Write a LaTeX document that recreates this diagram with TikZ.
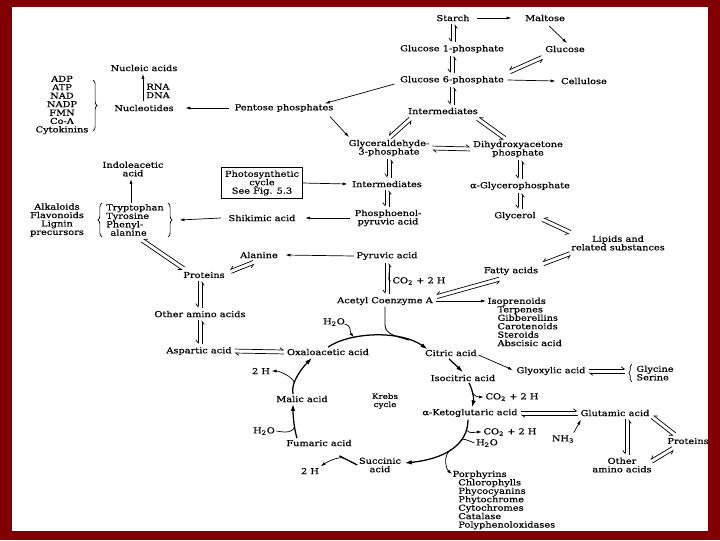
\documentclass[tikz,border=0pt]{standalone}
\usepackage{fontspec}
\newfontfamily\diagfont[FakeStretch=1.2,FakeBold=0.5]{DejaVu Serif}
\usetikzlibrary{arrows.meta}
\usetikzlibrary{calc}
\usetikzlibrary{decorations.pathreplacing}
\definecolor{framered}{RGB}{128,0,4}
\newcommand{\dfont}{\fontsize{5.8pt}{6pt}\diagfont}
\newcommand{\cotwo}{CO\textsubscript{2} + 2 H}
\newcommand{\water}{H\textsubscript{2}O}
\tikzset{
  fwd/.style={-{Latex[length=3.5pt,width=2.2pt]},line width=0.5pt},
  pairR/.style={-{Straight Barb[right,length=2.2pt,width=3.2pt]},line width=0.5pt,shorten <=1pt,shorten >=1pt},
  pairL/.style={-{Straight Barb[left,length=2.2pt,width=3.2pt]},line width=0.5pt,shorten <=1pt,shorten >=1pt},
  cyc/.style={-{Latex[length=5pt,width=3.2pt]},line width=0.9pt},
  cycline/.style={line width=0.9pt},
  curly/.style={decorate,decoration={brace,amplitude=3pt},line width=0.5pt},
  listnode/.style={align=left,anchor=north west},
  pathbox/.style={draw,line width=0.7pt,inner sep=2pt,minimum width=57pt,minimum height=22pt}
}
% reversible pair: both lines on their right side / left side
\newcommand{\revR}[2]{%
  \draw[pairR] ($(#1)!1.4pt!-90:(#2)$) -- ($(#2)!1.4pt!90:(#1)$);
  \draw[pairR] ($(#2)!1.4pt!-90:(#1)$) -- ($(#1)!1.4pt!90:(#2)$);}
\newcommand{\revL}[2]{%
  \draw[pairL] ($(#1)!1.4pt!90:(#2)$) -- ($(#2)!1.4pt!-90:(#1)$);
  \draw[pairL] ($(#2)!1.4pt!90:(#1)$) -- ($(#1)!1.4pt!-90:(#2)$);}

\begin{document}
\begin{tikzpicture}[x=0.025cm,y=-0.025cm,
  every node/.style={font=\dfont,inner sep=1pt,align=center}]
\fill[framered] (0,0) rectangle (720,540);
\fill[white] (12,7) rectangle (708,531);
\useasboundingbox (0,0) rectangle (720,540);

% carbohydrates
\node (starch) at (453,18) {Starch};
\node (maltose) at (545,18) {Maltose};
\node (gonep) at (452,49) {Glucose 1-phosphate};
\node (glucose) at (565,49) {Glucose};
\node (gsixp) at (452,80) {Glucose 6-phosphate};
\node (cellulose) at (584,81) {Cellulose};
\node (pentose) at (284,108) {Pentose phosphates};
\node (intertop) at (443,111) {Intermediates};
\node (nucacid) at (144,68) {Nucleic acids};
\node (nucleo) at (144,108) {Nucleotides};
\node (rnadna) at (158,91) {RNA\\DNA};
\node (cofac) at (62,105) {ADP\\ATP\\NAD\\NADP\\FMN\\Co-A\\Cytokinins};
\node (glyc3p) at (389,148) {Glyceraldehyde-\\3-phosphate};
\node (dhap) at (518,149) {Dihydroxyacetone\\phosphate};
\node[pathbox] (photo) at (262,183) {Photosynthetic\\cycle\\See Fig. 5.3};
\node (intermid) at (387,184) {Intermediates};
\node (aglyc) at (520,186) {α-Glycerophosphate};

% amino acids, lipids
\node (indole) at (133,169) {Indoleacetic\\acid};
\node (alkal) at (57,220) {Alkaloids\\Flavonoids\\Lignin\\precursors};
\node[align=left] (aromatic) at (135,220) {Tryptophan\\Tyrosine\\Phenyl-\\\hspace*{3pt}alanine};
\node (shikimic) at (262,218) {Shikimic acid};
\node (pep) at (388,218) {Phosphoenol-\\pyruvic acid};
\node (glycerol) at (515,216) {Glycerol};
\node (lipids) at (618,243) {Lipids and\\related substances};
\node (alanine) at (259,255) {Alanine};
\node (pyruvic) at (387,256) {Pyruvic acid};
\node (protl) at (204,275) {Proteins};
\node (fatty) at (511,271) {Fatty acids};
\node (co2a) at (419,281) {\cotwo};
\node (acetyl) at (385,301) {Acetyl Coenzyme A};
\node[listnode] (isopr) at (486,296) {Isoprenoids\\\hspace*{7pt}Terpenes\\\hspace*{7pt}Gibberellins\\\hspace*{7pt}Carotenoids\\\hspace*{7pt}Steroids\\\hspace*{7pt}Abscisic acid};
\node (otherl) at (200,314) {Other amino acids};
\node (aspartic) at (199,351) {Aspartic acid};

% Krebs cycle
\node (water1) at (334,322) {\water};
\node (oxalo) at (328,352) {Oxaloacetic acid};
\node (citric) at (451,353) {Citric acid};
\node (htwo1) at (261,371) {2 H};
\node (isocitric) at (463,378) {Isocitric acid};
\node (co2b) at (512,397) {\cotwo};
\node (malic) at (302,399) {Malic acid};
\node[font=\fontsize{5.2pt}{5.8pt}\diagfont] (krebs) at (385,401) {Krebs\\cycle};
\node (akg) at (470,413) {α-Ketoglutaric acid};
\node (water2) at (264,431) {\water};
\node (co2c) at (510,432) {\cotwo};
\node (water3) at (487,443) {\water};
\node (fumaric) at (319,443) {Fumaric acid};
\node (succinic) at (380,465) {Succinic\\acid};
\node (htwo2) at (310,471) {2 H};
\node[listnode] (porph) at (451,469) {Porphyrins\\\hspace*{4pt}Chlorophylls\\\hspace*{4pt}Phycocyanins\\\hspace*{4pt}Phytochrome\\\hspace*{4pt}Cytochromes\\\hspace*{4pt}Catalase\\\hspace*{4pt}Polyphenoloxidases};
\node (glyox) at (551,371) {Glyoxylic acid};
\node[align=left] (glycser) at (655,373) {Glycine\\Serine};
\node (glutamic) at (615,413) {Glutamic acid};
\node (nh3) at (563,439) {NH\textsubscript{3}};
\node (protr) at (688,441) {Proteins};
\node (otherr) at (622,465) {Other\\amino acids};

% top part
\draw[fwd] ([shift={(6,0)}]starch.east) -- ([shift={(-12,0)}]maltose.west);
\draw[fwd] ([shift={(4,3)}]maltose.south) -- ([shift={(2,-1)}]glucose.north);
\revR{starch.south}{starch.south |- gonep.north}
\revR{gonep.south}{gonep.south |- gsixp.north}
\draw[fwd] ([shift={(2,0)}]gsixp.east) -- ([shift={(-4,0)}]cellulose.west);
\revR{[shift={(0,3)}]glucose.south west}{[shift={(3,-2)}]gsixp.north east}
\draw[fwd] ([shift={(-4,4)}]gsixp.west) -- ([shift={(-10,1)}]pentose.north east);
\revR{gsixp.south}{gsixp.south |- intertop.north}
\draw[fwd] ([shift={(-4,0)}]pentose.west) -- ([shift={(10,0)}]nucleo.east);
\draw[fwd] ([shift={(-1,-2)}]nucleo.north) -- ([shift={(-1,1)}]nucacid.south);
\draw[curly] (93,80) -- (93,131);

% glycolysis
\draw[fwd] ([shift={(-5,3)}]pentose.south east) -- ([shift={(2,-1)}]glyc3p.north west);
\revR{[shift={(5,2)}]intertop.south west}{glyc3p.north}
\revR{[shift={(-3,2)}]intertop.south east}{[shift={(-12,0)}]dhap.north}
\revL{glyc3p.east}{dhap.west}
\revR{glyc3p.south}{glyc3p.south |- intermid.north}
\draw[fwd] (photo.east) -- ([shift={(-3,0)}]intermid.west);
\revR{aglyc.north |- dhap.south}{aglyc.north}
\revR{intermid.south}{intermid.south |- pep.north}
\revR{aglyc.south}{aglyc.south |- glycerol.north}
\draw[fwd] ([shift={(-3,0)}]pep.west) -- ([shift={(8,0)}]shikimic.east);
\draw[fwd] ([shift={(-6,0)}]shikimic.west) -- ([shift={(14,0)}]aromatic.east);
\draw[curly] (102,237) -- (102,203);
\draw[curly] (168,203) -- (168,237);
\draw[fwd] ([shift={(-4,0)}]aromatic.north) -- ([shift={(-2,1)}]indole.south);
\revR{[shift={(6,2)}]aromatic.south}{[shift={(3,-1)}]protl.north west}
\draw[fwd] ([shift={(-1,0)}]pyruvic.west) -- ([shift={(6,0)}]alanine.east);
\revR{[shift={(-4,2)}]alanine.south}{[shift={(3,-3)}]protl.east}
\revR{otherl.north |- protl.south}{otherl.north}
\revR{otherl.south}{otherl.south |- aspartic.north}
\revL{aspartic.east}{oxalo.west}
\revR{[shift={(4,3)}]glycerol.east}{[shift={(2,-1)}]lipids.north west}
\revR{[shift={(2,1)}]lipids.south west}{[shift={(2,-1)}]fatty.north east}
\revR{pyruvic.south}{pyruvic.south |- acetyl.north}
\draw[line width=0.5pt] ([shift={(2,11)}]pyruvic.south) .. controls +(0,6) and +(-3,0) .. (co2a.west);
\revR{[shift={(1,-4)}]acetyl.east}{[shift={(-10,2)}]fatty.south}
\draw[fwd,shorten <=1pt] (acetyl.east) -- (acetyl.east -| isopr.west);

% Krebs cycle
\draw[cyc] (oxalo.north) .. controls (350,332) and (400,330) .. ([shift={(4,1)}]citric.north west)
  coordinate[pos=0.3] (ta) coordinate[pos=0.8] (tb);
\draw[fwd] ([shift={(-2,2)}]water1.east) .. controls +(8,2) and +(-5,-6) .. (ta);
\draw[line width=0.6pt] (acetyl.south) -- ++(0,18) .. controls +(0,10) and +(-12,-4) .. (tb);
\draw[cyc] ([shift={(-2,1)}]citric.south) -- ([shift={(0,-1)}]isocitric.north);
\draw[cyc] ([shift={(6,0)}]isocitric.south) .. controls +(4,8) and +(2,-8) .. ([shift={(2,0)}]akg.north)
  coordinate[pos=0.4] (ti);
\draw[fwd] (ti) .. controls +(3,4) and +(-6,0) .. (co2b.west);
\draw[cyc] ([shift={(-2,1)}]akg.south) .. controls +(0,25) and +(40,-4) .. ([shift={(2,-2)}]succinic.east)
  coordinate[pos=0.15] (kc) coordinate[pos=0.35] (kw) coordinate[pos=0.5] (kp);
\draw[fwd] (kc) .. controls +(4,4) and +(-8,0) .. (co2c.west);
\draw[line width=0.5pt] (water3.west) .. controls +(-8,-3) and +(3,-5) .. (kw);
\draw[fwd] (kp) .. controls +(-9,6) and +(-6,-5) .. ([shift={(1,5)}]porph.north west);
\draw[cycline] (succinic.west) -- ([shift={(-14,8)}]fumaric.south east) coordinate[pos=0.75] (ts);
\draw[fwd] (ts) .. controls +(-6,-2) and +(6,-4) .. (htwo2.north east);
\draw[cyc] ([shift={(-22,0)}]fumaric.north) .. controls +(-3,-10) and +(0,12) .. ([shift={(-9,0)}]malic.south)
  coordinate[pos=0.35] (tf);
\draw[line width=0.5pt] (water2.east) .. controls +(10,2) and +(-1,5) .. (tf);
\draw[cyc] ([shift={(-9,0)}]malic.north) .. controls +(-3,-12) and +(-8,8) .. ([shift={(-16,1)}]oxalo.south)
  coordinate[pos=0.3] (tm);
\draw[fwd] (tm) .. controls +(-2,-6) and +(8,0) .. (htwo1.east);

% glyoxylate and glutamate
\draw[fwd] ([shift={(0,2)}]citric.east) -- ([shift={(-2,-1)}]glyox.west);
\revL{glyox.east}{[shift={(-8,-2)}]glycser.west}
\draw[curly,decoration={brace,amplitude=2pt}] ([shift={(-3,0)}]glycser.south west) -- ([shift={(-3,0)}]glycser.north west);
\revL{akg.east}{glutamic.west}
\draw[fwd] ([shift={(-2,-1)}]nh3.north east) -- ([shift={(2,2)}]glutamic.south west);
\revR{[shift={(12,0)}]glutamic.south}{[shift={(5,0)}]otherr.north}
\revR{[shift={(0,3)}]glutamic.east}{[shift={(10,-1)}]protr.north west}
\revR{[shift={(-14,2)}]protr.south}{[shift={(-3,-3)}]otherr.east}
\end{tikzpicture}
\end{document}
